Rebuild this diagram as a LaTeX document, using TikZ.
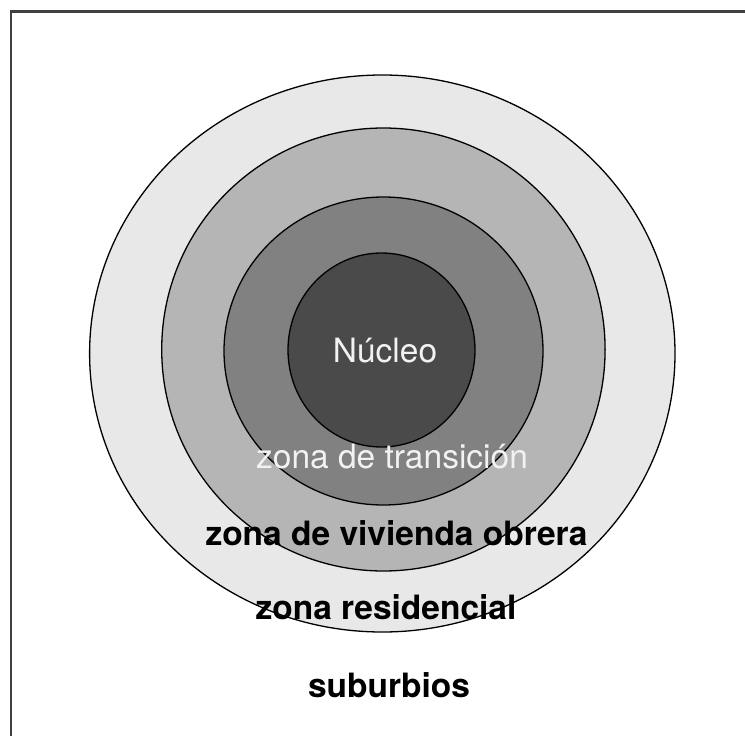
\documentclass[tikz,border=0pt]{standalone}
\usepackage{fontspec}
\setmainfont{TeX Gyre Heros}
\definecolor{ringA}{gray}{0.91}
\definecolor{ringB}{gray}{0.71}
\definecolor{ringC}{gray}{0.505}
\definecolor{ringD}{gray}{0.29}
\definecolor{framegray}{gray}{0.25}
\tikzset{
  ring/.style={draw=black, line width=1.3pt},
  zonelabel/.style={anchor=base, inner sep=0pt, font=\fontsize{33.5}{40}\selectfont},
  lightlabel/.style={zonelabel, text=white!95!black},
  darklabel/.style={zonelabel, text=black, font=\fontsize{33.5}{40}\selectfont\bfseries},
}
\begin{document}
\begin{tikzpicture}[x=1pt, y=-1pt]
  \useasboundingbox (0,0) rectangle (745,736);
  % frame (top and left edges)
  \draw[framegray, line width=2.2pt] (11,736) -- (11,11.5) -- (745,11.5);
  % concentric zones, outermost first
  \draw[ring, fill=ringA] (382.3,353.5) ellipse [x radius=292.7, y radius=278.5];
  \draw[ring, fill=ringB] (383.4,349.5) ellipse [x radius=221.7, y radius=221.5];
  \draw[ring, fill=ringC] (383.5,351) ellipse [x radius=159.5, y radius=154];
  \draw[ring, fill=ringD] (381.5,350) ellipse [x radius=93.5, y radius=97];
  % zone names
  \node[lightlabel] (nucleo) at (385,362) {Núcleo};
  \node[lightlabel] (transicion) at (392,468) {zona de transición};
  \node[darklabel] (obrera) at (396.5,545) {zona de vivienda obrera};
  \node[darklabel] (residencial) at (386,619.5) {zona residencial};
  \node[darklabel] (suburbios) at (389,697) {suburbios};
\end{tikzpicture}
\end{document}
